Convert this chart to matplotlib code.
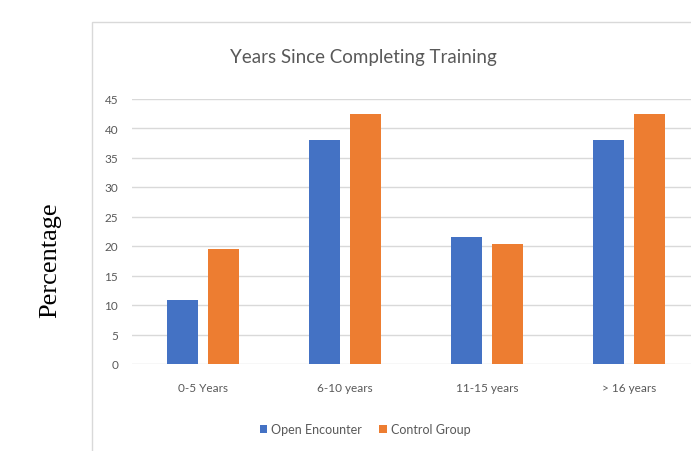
import matplotlib.pyplot as plt
import numpy as np
from matplotlib.patches import Rectangle

categories = ["0-5 Years", "6-10 years", "11-15 years", "> 16 years"]
open_encounter = [10.8, 37.9, 21.5, 37.9]
control_group = [19.5, 42.4, 20.3, 42.4]
y_ticks = [0, 5, 10, 15, 20, 25, 30, 35, 40, 45]

BLUE = "#4472C4"
ORANGE = "#ED7D31"
GRID = "#D9D9D9"
TEXT = "#595959"
FONT = "Lato"

W, H = 691, 452
fig = plt.figure(figsize=(W / 100, H / 100), dpi=100, facecolor="white")

# chart frame (runs off the right and bottom edges)
fig.patches.append(
    Rectangle(
        (92 / W, -0.2),
        1.2,
        1.2 - 22.5 / H,
        transform=fig.transFigure,
        facecolor="none",
        edgecolor=GRID,
        linewidth=1.0,
        zorder=0,
    )
)

# plot area: left 132 px, right past the image edge, y 0..45 -> 365..99.5 px
ax = fig.add_axes([132 / W, 1 - 365 / H, (700 - 132) / W, (365 - 99.5) / H])

x = np.arange(len(categories))
bar_w = 0.22
offset = 0.145
ax.bar(x - offset, open_encounter, bar_w, color=BLUE, label="Open Encounter", zorder=3)
ax.bar(x + offset, control_group, bar_w, color=ORANGE, label="Control Group", zorder=3)

ax.set_xlim(-0.5, len(categories) - 0.5)
ax.set_ylim(0, 45)
ax.set_yticks(y_ticks)
ax.set_xticks(x)
ax.set_xticklabels(categories)
ax.grid(axis="y", color=GRID, linewidth=1.0, zorder=0)
ax.set_axisbelow(True)
for s in ax.spines.values():
    s.set_visible(False)
ax.tick_params(axis="both", length=0, labelsize=8.5, labelcolor=TEXT)
ax.tick_params(axis="y", pad=10)
ax.tick_params(axis="x", pad=13)
for lab in ax.get_xticklabels() + ax.get_yticklabels():
    lab.set_family(FONT)

fig.text(363 / W, 1 - 57 / H, "Years Since Completing Training",
         ha="center", va="center", fontsize=13.5, color=TEXT, family=FONT)

fig.legend(
    loc="center",
    bbox_to_anchor=(365 / W, 1 - 430 / H),
    ncol=2,
    frameon=False,
    handlelength=0.6,
    handleheight=0.6,
    handletextpad=0.3,
    columnspacing=1.4,
    prop={"family": FONT, "size": 9},
    labelcolor=TEXT,
)

fig.text(50 / W, 1 - 260 / H, "Percentage", rotation=90, ha="center", va="center",
         fontsize=19, color="black", family="Liberation Serif")

fig.savefig("out.png", dpi=100)
